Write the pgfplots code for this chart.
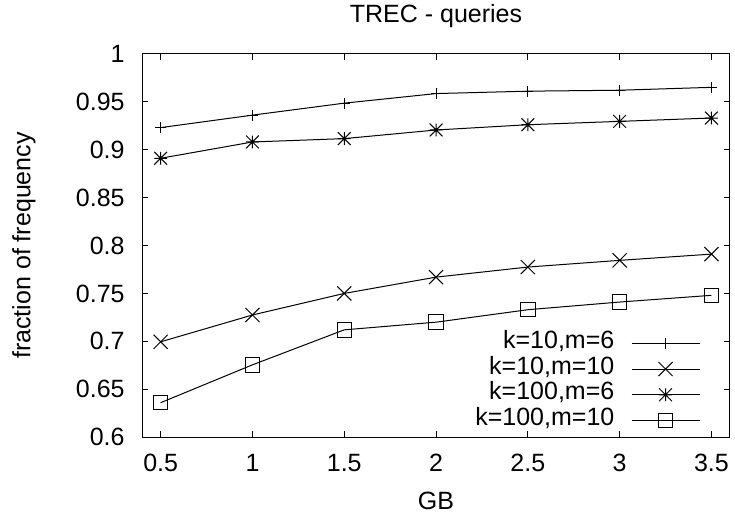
\documentclass[border=0pt]{standalone}
\usepackage{fontspec}
\setmainfont{Liberation Sans}
\usepackage{pgfplots}
\pgfplotsset{compat=1.18}
\usetikzlibrary{calc}
\pgfdeclareplotmark{gpstar}{%
  \pgfpathmoveto{\pgfqpoint{0pt}{\pgfplotmarksize}}\pgfpathlineto{\pgfqpoint{0pt}{-\pgfplotmarksize}}%
  \pgfpathmoveto{\pgfqpoint{-\pgfplotmarksize}{0pt}}\pgfpathlineto{\pgfqpoint{\pgfplotmarksize}{0pt}}%
  \pgfpathmoveto{\pgfqpoint{-\pgfplotmarksize}{-\pgfplotmarksize}}\pgfpathlineto{\pgfqpoint{\pgfplotmarksize}{\pgfplotmarksize}}%
  \pgfpathmoveto{\pgfqpoint{-\pgfplotmarksize}{\pgfplotmarksize}}\pgfpathlineto{\pgfqpoint{\pgfplotmarksize}{-\pgfplotmarksize}}%
  \pgfusepathqstroke}
\pgfplotsset{every axis title shift=0pt}
\begin{document}
\fontsize{12.5}{15}\selectfont
\begin{tikzpicture}
\begin{axis}[name=ax, scale only axis, width=293.75pt, height=191.7pt,
  xmin=0.4, xmax=3.6, ymin=0.6, ymax=1,
  xtick={0.5,1,1.5,2,2.5,3,3.5},
  xticklabels={0.5,1,1.5,2,2.5,3,3.5},
  ytick={0.6,0.65,0.7,0.75,0.8,0.85,0.9,0.95,1},
  yticklabels={0.6,0.65,0.7,0.75,0.8,0.85,0.9,0.95,1},
  /pgf/number format/assume math mode=true,
  tick align=inside, major tick length=3pt,
  tick style={black, line width=0.5pt},
  axis line style={black, line width=0.5pt},
  xticklabel style={anchor=base, inner sep=0pt, yshift=-17.25pt},
  yticklabel style={anchor=east, inner sep=0pt, xshift=-8.65pt},
  title={TREC - queries},
  title style={at={(axis description cs:0.5,1.0809)}, anchor=base, inner sep=0pt, yshift=0pt},
  xlabel={GB},
  xlabel style={at={(axis description cs:0.5,-0.1873)}, anchor=base, inner sep=0pt},
  ylabel={fraction of frequency},
  ylabel style={at={(axis description cs:-0.1906,0.5)}, anchor=base, inner sep=0pt, rotate=0},
  legend plot pos=right,
  legend cell align=right,
  legend image code/.code={\draw[mark repeat=2,mark phase=2] plot coordinates {(0pt,0pt) (17pt,0pt) (34pt,0pt)};},
  legend style={draw=none, fill=none, at={(axis description cs:0.9500,0.0091)}, anchor=south east,
    inner sep=0pt, row sep=0pt, column sep=8.35pt,
    nodes={inner sep=0pt, text height=9pt, text depth=3.85pt}},
  every axis plot/.append style={black, line width=0.5pt, mark options={solid}},
]
\addplot[mark=+, mark size=2.75pt] coordinates {(0.5,0.923) (1,0.936) (1.5,0.9485) (2,0.9585) (2.5,0.961) (3,0.962) (3.5,0.965)};
\addlegendentry{k=10,m=6}
\addplot[mark=x, mark size=5pt] coordinates {(0.5,0.6995) (1,0.7275) (1.5,0.750) (2,0.767) (2.5,0.7775) (3,0.7845) (3.5,0.791)};
\addlegendentry{k=10,m=10}
\addplot[mark=gpstar, mark size=3.2pt] coordinates {(0.5,0.891) (1,0.908) (1.5,0.9115) (2,0.9205) (2.5,0.926) (3,0.9295) (3.5,0.933)};
\addlegendentry{k=100,m=6}
\addplot[mark=square, mark size=3.6pt, mark options={fill=white}] coordinates {(0.5,0.636) (1,0.6755) (1.5,0.712) (2,0.720) (2.5,0.733) (3,0.741) (3.5,0.748)};
\addlegendentry{k=100,m=10}
\end{axis}
\pgfresetboundingbox
\path ($(ax.south west)+(-71.15pt,-37.9pt)$) rectangle ($(ax.north east)+(2.6pt,26.9pt)$);
\end{tikzpicture}
\end{document}
